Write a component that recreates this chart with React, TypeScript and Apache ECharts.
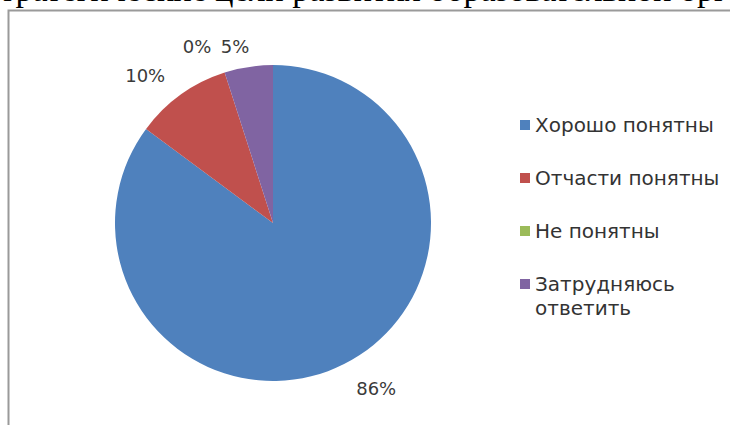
import React, { useEffect, useRef } from "react";
import * as echarts from "echarts";

const categories = ["Хорошо понятны", "Отчасти понятны", "Не понятны", "Затрудняюсь ответить"];
const values = [86, 10, 0, 5];
const colors = ["#4F81BD", "#C0504D", "#9BBB59", "#8064A2"];
const headingText = "Стратегические цели развития образовательной организации";

export default function App() {
  const ref = useRef<HTMLDivElement>(null);
  useEffect(() => {
    if (!ref.current) return;
    const chart = echarts.init(ref.current, null, { renderer: "svg" });
    chart.setOption({
      animation: false,
      backgroundColor: "#ffffff",
      color: colors,
      legend: {
        orient: "vertical",
        left: 515,
        top: 84,
        itemWidth: 10,
        itemHeight: 10,
        itemGap: -19,
        icon: "rect",
        formatter: (name: string) =>
          name === "Затрудняюсь ответить" ? " \nЗатрудняюсь\nответить" : " \n" + name + "\n ",
        textStyle: {
          fontSize: 20,
          fontFamily: "DejaVu Sans",
          color: "#333333",
          lineHeight: 24,
        },
        data: categories,
      },
      graphic: [
        {
          type: "rect",
          shape: { x: 8.5, y: 10.5, width: 800, height: 500 },
          style: { fill: "none", stroke: "#9a9a9a", lineWidth: 2 },
          z: 0,
        },
        {
          type: "text",
          x: -22,
          y: 6,
          style: {
            text: headingText,
            fontFamily: "Liberation Serif",
            fontSize: 34,
            fill: "#000",
            verticalAlign: "bottom",
          },
        },
      ],
      series: [
        {
          type: "pie",
          center: [273, 223],
          radius: 158,
          startAngle: 90,
          clockwise: true,
          avoidLabelOverlap: false,
          data: categories.map((c, i) => ({ name: c, value: values[i] })),
          itemStyle: { borderWidth: 0 },
          label: {
            show: true,
            position: "outside",
            formatter: "{c}%",
            fontSize: 18,
            fontFamily: "DejaVu Sans",
            color: "#3a3a3a",
            distanceToLabelLine: 0,
          },
          labelLine: { show: false, length: 27, length2: 0 },
          labelLayout: (p: any) =>
            p.dataIndex === 2
              ? { dx: -5, dy: 0 }
              : p.dataIndex === 3
              ? { dx: 5, dy: 6 }
              : p.dataIndex === 1
              ? { dy: 3 }
              : {},
          emphasis: { disabled: true },
        },
      ],
    });
    return () => chart.dispose();
  }, []);
  return <div ref={ref} style={{ position: "fixed", left: 0, top: 0, width: 730, height: 425 }} />;
}
